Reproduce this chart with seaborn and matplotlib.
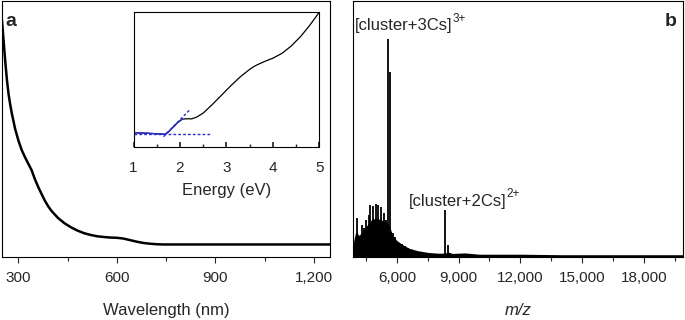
import matplotlib
matplotlib.use("Agg")
import matplotlib.pyplot as plt
from matplotlib.ticker import MultipleLocator, FuncFormatter
import seaborn as sns
import pandas as pd

# panel a: absorption spectrum (arbitrary units)
wavelength = [245, 250, 255, 260, 265, 270, 275, 280, 290, 300, 310, 320,
              330, 340, 350, 360, 370, 380, 390, 400, 420, 440, 460, 480,
              500, 520, 540, 560, 580, 600, 620, 640, 660, 680, 700, 720,
              740, 800, 1000, 1250]
absorbance = [0.98, 0.92, 0.84, 0.76, 0.69, 0.635, 0.595, 0.56, 0.50, 0.455,
              0.418, 0.39, 0.365, 0.34, 0.305, 0.275, 0.248, 0.222, 0.2,
              0.182, 0.154, 0.133, 0.117, 0.104, 0.094, 0.087, 0.082, 0.079,
              0.077, 0.076, 0.073, 0.067, 0.061, 0.056, 0.053, 0.051, 0.05,
              0.05, 0.05, 0.05]

# inset: absorbance vs photon energy
energy = [1.0, 1.3, 1.6, 1.68, 1.75, 1.85, 1.95, 2.05, 2.15, 2.25, 2.36, 2.5,
          2.7, 2.9, 3.1, 3.3, 3.5, 3.6, 3.7, 3.85, 4.0, 4.2, 4.4, 4.6, 4.8, 5.0]
energy_abs = [0.104, 0.100, 0.094, 0.092, 0.11, 0.145, 0.18, 0.205, 0.208,
              0.207, 0.22, 0.25, 0.315, 0.385, 0.455, 0.52, 0.575, 0.598,
              0.615, 0.638, 0.658, 0.695, 0.75, 0.82, 0.905, 1.0]
fit_cut = 2.05
baseline_x = [1.0, 2.65]
baseline_y = [0.092, 0.092]
tangent_x = [1.645, 2.22]
tangent_y = [0.074, 0.278]

# panel b: mass spectrum, envelope of the dense part and the resolved peaks
env_mz = [3890, 4000, 4170, 4300, 4500, 4800, 5100, 5400, 5600, 5800, 6000,
          6300, 6600, 7000, 7500, 8000, 8300, 8500, 8700, 9300, 10000, 12000,
          14000, 19900]
env_int = [0.06, 0.10, 0.085, 0.10, 0.12, 0.15, 0.15, 0.14, 0.13, 0.085,
           0.065, 0.048, 0.035, 0.026, 0.019, 0.016, 0.016, 0.02, 0.015,
           0.017, 0.012, 0.012, 0.010, 0.010]
peak_mz = [4058, 4301, 4413, 4510, 4621, 4704, 4835, 4961, 5092, 5223, 5350,
           5481, 5592, 5660, 5806, 5917, 6078, 6243, 6403, 6563, 8345, 8476]
peak_int = [0.154, 0.125, 0.113, 0.145, 0.164, 0.203, 0.200, 0.206, 0.203,
            0.196, 0.171, 0.145, 0.850, 0.723, 0.094, 0.079, 0.060, 0.050,
            0.044, 0.036, 0.184, 0.047]

sns.set_theme(style="ticks")
plt.rcParams["font.family"] = ["Liberation Sans", "DejaVu Sans"]
plt.rcParams["axes.linewidth"] = 0.8
plt.rcParams["axes.edgecolor"] = "black"

comma = FuncFormatter(lambda v, p: f"{int(v):,}")

fig = plt.figure(figsize=(6.85, 3.2), dpi=100)
ax_a = fig.add_axes([0.003, 0.196, 0.479, 0.801])
ax_b = fig.add_axes([0.516, 0.196, 0.481, 0.801])
ax_in = fig.add_axes([0.195, 0.5416, 0.271, 0.42])

# --- panel a
sns.lineplot(x=wavelength, y=absorbance, ax=ax_a, color="black", lw=1.8)
ax_a.set_xlim(250, 1250)
ax_a.set_ylim(0, 1)
ax_a.set_xticks([300, 600, 900, 1200])
ax_a.xaxis.set_minor_locator(MultipleLocator(150))
ax_a.xaxis.set_major_formatter(comma)
ax_a.set_yticks([])
ax_a.set_xlabel("Wavelength (nm)", fontsize=12, labelpad=13)
ax_a.text(0.027, 0.92, "a", transform=ax_a.transAxes, fontsize=14,
          fontweight="bold", ha="center", va="center")

# --- inset
sns.lineplot(x=energy, y=energy_abs, ax=ax_in, color="black", lw=0.9)
fit_df = pd.DataFrame({"E": energy, "A": energy_abs})
fit_df = fit_df[fit_df["E"] <= fit_cut]
sns.lineplot(data=fit_df, x="E", y="A", ax=ax_in, color="#2b2bd6", lw=1.0)
ax_in.plot(baseline_x, baseline_y, color="#2b2bd6", lw=1.0, ls=(0, (2, 1.5)))
ax_in.plot(tangent_x, tangent_y, color="#2b2bd6", lw=1.0, ls=(0, (2, 1.5)))
ax_in.set_xlim(1, 5)
ax_in.set_ylim(0, 1)
ax_in.xaxis.set_major_locator(MultipleLocator(1))
ax_in.xaxis.set_minor_locator(MultipleLocator(0.5))
ax_in.set_yticks([])
ax_in.set_ylabel("")
ax_in.tick_params(axis="x", which="both", direction="in", labelsize=11,
                  pad=10)
ax_in.tick_params(axis="x", which="major", length=3.5)
ax_in.tick_params(axis="x", which="minor", length=2.5)
ax_in.set_xlabel("Energy (eV)", fontsize=12, labelpad=6)

# --- panel b
ax_b.fill_between(env_mz, env_int, 0, color="black", lw=0)
ax_b.vlines(peak_mz, 0, peak_int, color="black", lw=1.3)
ax_b.set_xlim(3890, 19900)
ax_b.set_ylim(0, 1)
ax_b.xaxis.set_major_locator(MultipleLocator(3000))
ax_b.xaxis.set_minor_locator(MultipleLocator(1500))
ax_b.xaxis.set_major_formatter(comma)
ax_b.set_yticks([])
ax_b.set_xlabel("m/z", fontsize=12, style="italic", labelpad=13)

labels = [("[cluster+3Cs]", "3+", 3976, 0.885),
          ("[cluster+2Cs]", "2+", 6563, 0.202)]
for main, sup, lx, ly in labels:
    t = ax_b.text(lx, ly, main, fontsize=12, ha="left", va="baseline")
    ax_b.annotate(sup, xy=(1.0, 0.95), xycoords=t, fontsize=8.5,
                  ha="left", va="center")
ax_b.text(0.963, 0.92, "b", transform=ax_b.transAxes, fontsize=14,
          fontweight="bold", ha="center", va="center")

for ax in (ax_a, ax_b):
    ax.tick_params(axis="x", which="both", direction="out", labelsize=11,
                   pad=6)
    ax.tick_params(axis="x", which="major", length=4, width=0.8)
    ax.tick_params(axis="x", which="minor", length=3, width=0.8)

fig.savefig("out.png", dpi=100)
